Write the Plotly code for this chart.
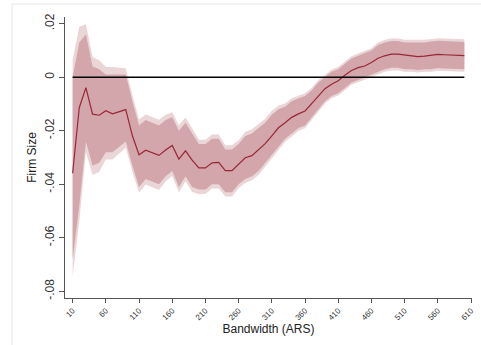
"""RD estimates by bandwidth - firm size"""
import plotly.graph_objects as go

# bandwidth grid (ARS)
bandwidth = list(range(10, 601, 10))

# point estimates
coef = [
    -0.0359, -0.0114, -0.0039, -0.0138, -0.0142, -0.0125, -0.0137, -0.0130, -0.0121, -0.0219,
    -0.0290, -0.0273, -0.0282, -0.0292, -0.0272, -0.0255, -0.0306, -0.0275, -0.0310, -0.0339,
    -0.0339, -0.0320, -0.0318, -0.0349, -0.0349, -0.0325, -0.0301, -0.0293, -0.0272, -0.0248,
    -0.0219, -0.0189, -0.0170, -0.0150, -0.0137, -0.0126, -0.0099, -0.0069, -0.0043, -0.0026,
    -0.0013, 0.0007, 0.0025, 0.0036, 0.0042, 0.0055, 0.0071, 0.0080, 0.0086, 0.0086,
    0.0083, 0.0079, 0.0077, 0.0079, 0.0082, 0.0085, 0.0084, 0.0083, 0.0082, 0.0081,
]

# inner (90%) confidence band
ci_hi = [
    0.0000, 0.0130, 0.0160, 0.0040, 0.0030, 0.0010, 0.0010, 0.0010, 0.0010, -0.0090,
    -0.0180, -0.0160, -0.0170, -0.0180, -0.0160, -0.0150, -0.0200, -0.0170, -0.0210, -0.0250,
    -0.0250, -0.0230, -0.0230, -0.0270, -0.0270, -0.0250, -0.0220, -0.0210, -0.0190, -0.0170,
    -0.0140, -0.0120, -0.0110, -0.0090, -0.0080, -0.0070, -0.0050, -0.0020, 0.0000, 0.0020,
    0.0030, 0.0050, 0.0070, 0.0080, 0.0090, 0.0100, 0.0120, 0.0130, 0.0135, 0.0135,
    0.0130, 0.0130, 0.0128, 0.0130, 0.0133, 0.0136, 0.0135, 0.0134, 0.0133, 0.0132,
]
ci_lo = [
    -0.0680, -0.0480, -0.0240, -0.0330, -0.0320, -0.0280, -0.0280, -0.0260, -0.0240, -0.0330,
    -0.0410, -0.0380, -0.0390, -0.0400, -0.0370, -0.0350, -0.0410, -0.0370, -0.0410, -0.0420,
    -0.0420, -0.0400, -0.0400, -0.0430, -0.0430, -0.0400, -0.0380, -0.0370, -0.0350, -0.0320,
    -0.0290, -0.0260, -0.0230, -0.0210, -0.0190, -0.0180, -0.0150, -0.0120, -0.0090, -0.0070,
    -0.0060, -0.0040, -0.0020, -0.0010, 0.0000, 0.0010, 0.0020, 0.0030, 0.0035, 0.0035,
    0.0030, 0.0030, 0.0027, 0.0030, 0.0030, 0.0034, 0.0033, 0.0032, 0.0031, 0.0030,
]

xticks = [10, 60, 110, 160, 210, 260, 310, 360, 410, 460, 510, 560, 610]
yticks = [0.02, 0, -0.02, -0.04, -0.06, -0.08]
ytick_text = [".02", "0", "-.02", "-.04", "-.06", "-.08"]

LINE = "#9A2636"
BAND_IN = "#D2A6AB"
BAND_OUT = "#EAD5D7"
AXIS = "#555555"

# outer (95%) band: widen the 90% band around its centre
k = 1.96 / 1.645
mid = [(h + l) / 2 for h, l in zip(ci_hi, ci_lo)]
out_hi = [m + (h - m) * k for m, h in zip(mid, ci_hi)]
out_lo = [m - (m - l) * k for m, l in zip(mid, ci_lo)]

fig = go.Figure()


def add_band(lo, hi, color):
    fig.add_trace(go.Scatter(x=bandwidth, y=hi, mode="lines", line=dict(width=0),
                             hoverinfo="skip", showlegend=False))
    fig.add_trace(go.Scatter(x=bandwidth, y=lo, mode="lines", line=dict(width=0),
                             fill="tonexty", fillcolor=color, hoverinfo="skip",
                             showlegend=False))


add_band(out_lo, out_hi, BAND_OUT)
add_band(ci_lo, ci_hi, BAND_IN)

fig.add_trace(go.Scatter(x=bandwidth, y=coef, mode="lines",
                         line=dict(color=LINE, width=1.2), showlegend=False))

# zero reference line over the bandwidth span
fig.add_shape(type="line", x0=bandwidth[0], x1=bandwidth[-1], y0=0, y1=0,
              xref="x", yref="y", line=dict(color="black", width=1.4))

# faint graph-region outline
fig.add_shape(type="rect", xref="paper", yref="paper",
              x0=-0.130, x1=1.2, y0=-0.4, y1=1.046,
              line=dict(color="#E6E6E6", width=1), layer="below")

fig.update_layout(
    width=481,
    height=345,
    margin=dict(l=65, r=9, t=17, b=47),
    paper_bgcolor="white",
    plot_bgcolor="white",
    font=dict(family="Liberation Sans, Arial, sans-serif", color="#222222"),
    showlegend=False,
)
fig.update_xaxes(
    range=[-1.5, 611.5],
    tickvals=xticks,
    tickangle=-45,
    tickfont=dict(size=8, color="#333333"),
    ticks="outside", ticklen=4, tickcolor=AXIS, tickwidth=1,
    showline=True, linecolor=AXIS, linewidth=1,
    showgrid=False, zeroline=False, automargin=False,
    title=dict(text="Bandwidth (ARS)", font=dict(size=12), standoff=3),
)
fig.update_yaxes(
    range=[-0.0825, 0.0225],
    tickvals=yticks,
    ticktext=ytick_text,
    tickangle=-90,
    tickfont=dict(size=12, color="#333333"),
    ticks="outside", ticklen=5, tickcolor=AXIS, tickwidth=1,
    showline=True, linecolor=AXIS, linewidth=1,
    showgrid=False, zeroline=False, automargin=False,
    title=dict(text="Firm Size", font=dict(size=12), standoff=4),
)

# drop the default page margin so the figure sits at the window origin
fig.write_html("out.html", config={"displayModeBar": False},
               post_script="document.body.style.margin = '0';")
